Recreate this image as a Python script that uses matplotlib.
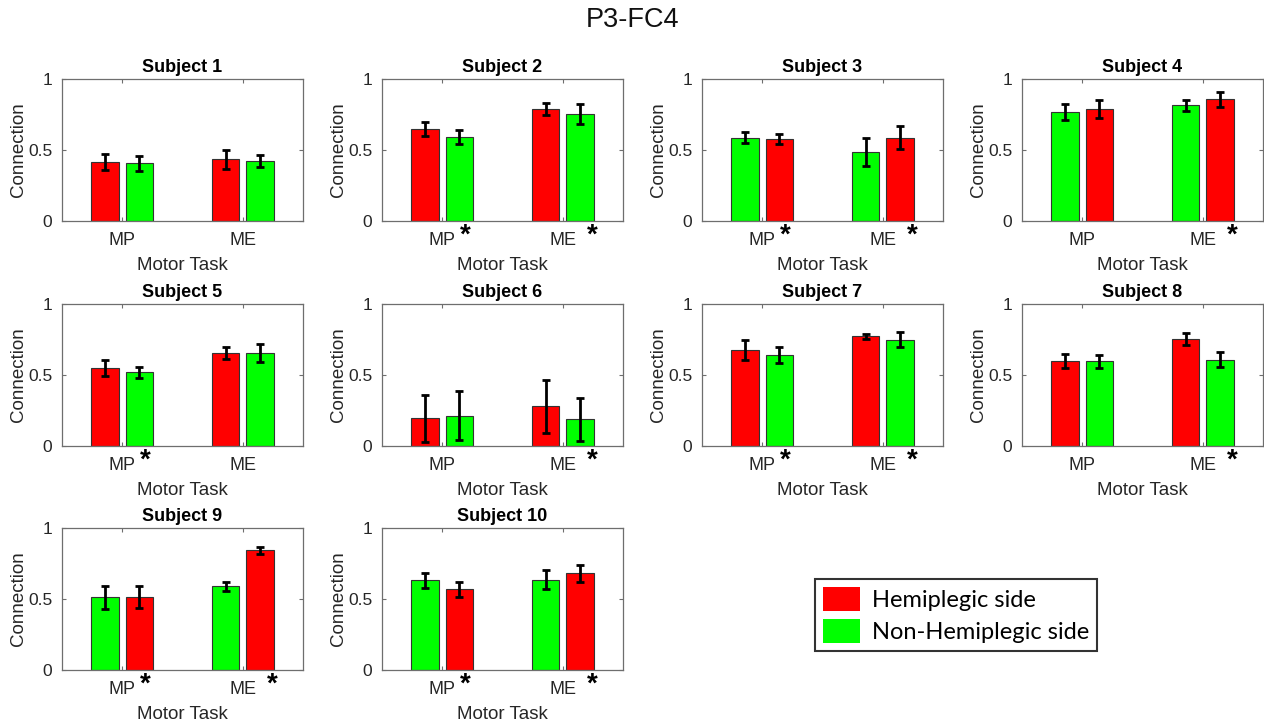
import matplotlib
matplotlib.use('Agg')
import matplotlib.pyplot as plt
from matplotlib.patches import Patch
import numpy as np

plt.rcParams['font.family'] = ['Liberation Sans', 'DejaVu Sans']

subjects = ['Subject %d' % i for i in range(1, 11)]
tasks = ['MP', 'ME']

# mean connection and error for the hemiplegic side, [MP, ME]
hemi_mean = [[0.416, 0.435], [0.649, 0.788], [0.576, 0.588], [0.788, 0.856], [0.551, 0.655],
             [0.196, 0.281], [0.676, 0.773], [0.600, 0.754], [0.515, 0.842], [0.567, 0.681]]
hemi_err = [[0.057, 0.067], [0.047, 0.045], [0.036, 0.079], [0.061, 0.050], [0.055, 0.043],
            [0.166, 0.187], [0.067, 0.019], [0.050, 0.043], [0.077, 0.026], [0.054, 0.061]]
# same for the non-hemiplegic side
nonhemi_mean = [[0.405, 0.424], [0.593, 0.753], [0.588, 0.487], [0.767, 0.816], [0.518, 0.655],
                [0.213, 0.189], [0.641, 0.749], [0.596, 0.608], [0.511, 0.589], [0.631, 0.636]]
nonhemi_err = [[0.052, 0.044], [0.048, 0.073], [0.038, 0.097], [0.059, 0.038], [0.038, 0.066],
               [0.172, 0.152], [0.053, 0.054], [0.046, 0.052], [0.079, 0.033], [0.052, 0.068]]
# True when the hemiplegic bar is on the left of each pair
hemi_left = [True, True, False, False, True, True, True, True, False, False]
# significance marks per task
signif = [[False, False], [True, True], [True, True], [False, True], [True, False],
          [False, True], [True, True], [False, True], [True, True], [True, True]]

RED = '#ff0000'
GREEN = '#00ff00'
AX_COL = '#6e6e6e'
TXT_COL = '#262626'

W, H = 1264, 724
fig = plt.figure(figsize=(W / 100, H / 100), dpi=100)
fig.text(0.5, 1 - 20 / H, 'P3-FC4', ha='center', va='center', fontsize=19.5, color='#111111')

col_left = [62, 382, 702, 1022]
row_top = [79, 304, 528]
ax_w, ax_h = 241, 142

x = np.arange(1, len(tasks) + 1)
offset = 0.143
bw = 0.229
star_dx = [0.19, 0.245]

for i in range(len(subjects)):
    r, c = divmod(i, 4)
    ax = fig.add_axes([col_left[c] / W, 1 - (row_top[r] + ax_h) / H, ax_w / W, ax_h / H])
    if hemi_left[i]:
        left = (hemi_mean[i], hemi_err[i], RED)
        right = (nonhemi_mean[i], nonhemi_err[i], GREEN)
    else:
        left = (nonhemi_mean[i], nonhemi_err[i], GREEN)
        right = (hemi_mean[i], hemi_err[i], RED)
    for pos, (m, e, col) in [(x - offset, left), (x + offset, right)]:
        ax.bar(pos, m, width=bw, color=col, edgecolor='#333333', linewidth=0.8, zorder=2)
        ax.errorbar(pos, m, yerr=e, fmt='none', ecolor='black', elinewidth=2,
                    capsize=3, capthick=2, zorder=3)
    for j, s in enumerate(signif[i]):
        if s:
            ax.text(x[j] + star_dx[j], -0.012, '*', transform=ax.get_xaxis_transform(),
                    ha='center', va='top', fontsize=20, fontweight='bold', color='black')
    ax.set_xlim(0.5, 2.5)
    ax.set_ylim(0, 1)
    ax.set_xticks(x)
    ax.set_xticklabels(tasks)
    ax.set_yticks([0, 0.5, 1])
    ax.set_yticklabels(['0', '0.5', '1'])
    ax.tick_params(direction='in', top=True, right=True, length=3, width=0.8,
                   colors=AX_COL, labelcolor=TXT_COL)
    ax.tick_params(axis='x', pad=8, labelsize=13)
    ax.tick_params(axis='y', pad=7, labelsize=12.5)
    for sp in ax.spines.values():
        sp.set_color(AX_COL)
        sp.set_linewidth(0.9)
    ax.set_title(subjects[i], fontsize=13, fontweight='bold', pad=5, color='black')
    ax.set_xlabel('Motor Task', fontsize=13.5, color=TXT_COL, labelpad=6)
    ax.set_ylabel('Connection', fontsize=13.5, color=TXT_COL, labelpad=1)

handles = [Patch(facecolor=RED, edgecolor='none'), Patch(facecolor=GREEN, edgecolor='none')]
leg = fig.legend(handles, ['Hemiplegic side', 'Non-Hemiplegic side'],
                 loc='upper left', bbox_to_anchor=(815 / W, 1 - 579 / H),
                 prop={'family': 'Lato', 'size': 17}, fancybox=False,
                 edgecolor='#333333', framealpha=1, handlelength=1.55, handleheight=1.15,
                 handletextpad=0.5, labelspacing=0.35, borderpad=0.35, borderaxespad=0)
leg.get_frame().set_linewidth(1.5)

fig.savefig('out.png', dpi=100)
